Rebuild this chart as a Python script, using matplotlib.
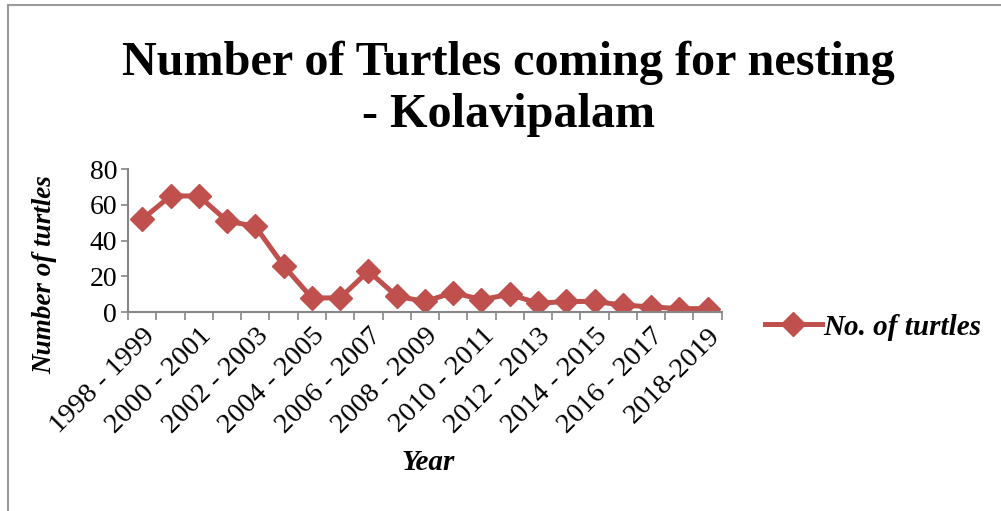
import numpy as np
import matplotlib.pyplot as plt
from matplotlib.lines import Line2D

plt.rcParams['font.family'] = ['Liberation Serif', 'DejaVu Serif']

seasons = ['1998 - 1999', '1999 - 2000', '2000 - 2001', '2001 - 2002', '2002 - 2003',
           '2003 - 2004', '2004 - 2005', '2005 - 2006', '2006 - 2007', '2007 - 2008',
           '2008 - 2009', '2009 - 2010', '2010 - 2011', '2011 - 2012', '2012 - 2013',
           '2013 - 2014', '2014 - 2015', '2015 - 2016', '2016 - 2017', '2017 - 2018',
           '2018-2019']
turtles = [52, 65, 65, 51, 48, 26, 8, 8, 23, 9, 6, 11, 7, 10, 5, 6, 6, 4, 3, 2, 2]

red = '#C0504D'
grey = '#868686'

fig = plt.figure(figsize=(10.01, 5.11), dpi=100)
ax = fig.add_axes([0.128, 0.389, 0.593, 0.28])

x = np.arange(len(seasons))
ax.plot(x, turtles, color=red, lw=3.6, marker='D', ms=12, mec=red, mfc=red,
        label='No. of turtles', solid_joinstyle='round')

ax.set_xlim(-0.5, len(seasons) - 0.5)
ax.set_ylim(0, 80)
ax.set_yticks([0, 20, 40, 60, 80])
ax.tick_params(axis='y', labelsize=20, length=5, color=grey, width=1.2, pad=3)

# category boundaries get tick marks, every other category gets a label
ax.set_xticks(np.arange(-0.5, len(seasons)), minor=True)
ax.set_xticks(x[::2])
ax.set_xticklabels(seasons[::2], rotation=45, ha='right', va='top',
                   rotation_mode='anchor', fontsize=20.5)
ax.tick_params(axis='x', which='major', length=0, pad=8)
ax.tick_params(axis='x', which='minor', length=6, color=grey, width=1.2)

for side in ['top', 'right']:
    ax.spines[side].set_visible(False)
for side in ['left', 'bottom']:
    ax.spines[side].set_color(grey)
    ax.spines[side].set_linewidth(1.5)

fig.text(0.045, 0.462, 'Number of turtles', fontsize=19.5, fontweight='bold', style='italic',
         rotation=90, ha='center', va='center')
fig.text(0.428, 0.094, 'Year', fontsize=21, fontweight='bold', style='italic',
         ha='center', va='center')

fig.text(0.508, 0.878, 'Number of Turtles coming for nesting', fontsize=34.7,
         fontweight='bold', ha='center', va='center')
fig.text(0.508, 0.775, '- Kolavipalam', fontsize=34.7,
         fontweight='bold', ha='center', va='center')

ax.legend(loc='center left', bbox_to_anchor=(0.764, 0.36), bbox_transform=fig.transFigure,
          frameon=False, handlelength=1.95, handletextpad=0.05, borderpad=0,
          borderaxespad=0,
          prop={'family': 'Liberation Serif', 'size': 21, 'weight': 'bold', 'style': 'italic'})

# outer frame of the chart area (left and top edges visible)
fig.add_artist(Line2D([0.008, 0.008], [0.0, 0.99], transform=fig.transFigure,
                      color='#9a9a9a', lw=1.5))
fig.add_artist(Line2D([0.008, 1.0], [0.99, 0.99], transform=fig.transFigure,
                      color='#9a9a9a', lw=1.5))

fig.savefig('out.png', dpi=100)
